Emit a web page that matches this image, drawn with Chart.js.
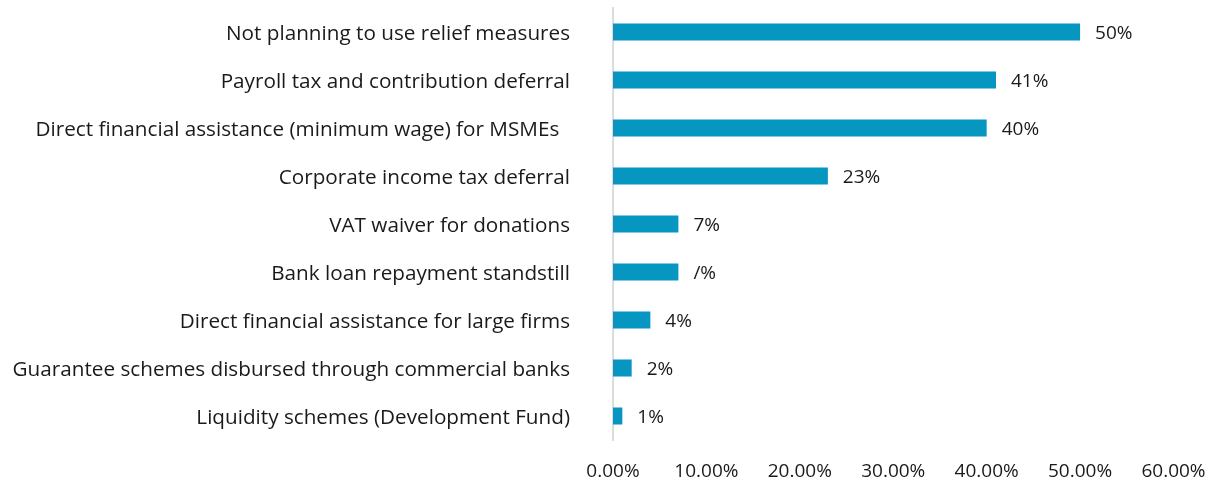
<!DOCTYPE html>
<html>
<head>
<meta charset="utf-8">
<script src="https://cdn.jsdelivr.net/npm/chart.js@4"></script>
<style>
  html, body { margin: 0; padding: 0; background: #ffffff; }
  #wrap { width: 1210px; height: 481px; position: relative; }
</style>
</head>
<body>
<div id="wrap"><canvas id="reliefChart"></canvas></div>
<script>
// Relief measures firms plan to use (share of respondents)
const categories = [
  'Not planning to use relief measures',
  'Payroll tax and contribution deferral',
  'Direct financial assistance (minimum wage) for MSMEs  ',
  'Corporate income tax deferral',
  'VAT waiver for donations',
  'Bank loan repayment standstill',
  'Direct financial assistance for large firms',
  'Guarantee schemes disbursed through commercial banks',
  'Liquidity schemes (Development Fund)'
];
const shares = [50, 41, 40, 23, 7, 7, 4, 2, 1];
const valueLabels = ['50%', '41%', '40%', '23%', '7%', '/%', '4%', '2%', '1%'];
const xTicks = [0, 10, 20, 30, 40, 50, 60];

const FONT = '"Open Sans", "Noto Sans", sans-serif';
const TEXT = '#1a1a1a';

// --- Draw the percentage next to each bar ---
const barLabels = {
  id: 'barLabels',
  afterDatasetsDraw(chart) {
    const ctx = chart.ctx;
    const meta = chart.getDatasetMeta(0);
    ctx.save();
    ctx.font = '19px ' + FONT;
    ctx.fillStyle = TEXT;
    ctx.textAlign = 'left';
    ctx.textBaseline = 'middle';
    meta.data.forEach((bar, i) => {
      ctx.fillText(valueLabels[i], bar.x + 15, bar.y + 2);
    });
    ctx.restore();
  }
};

const ctx = document.getElementById('reliefChart').getContext('2d');
const chart = new Chart(ctx, {
  type: 'bar',
  data: {
    labels: categories,
    datasets: [{
      data: shares,
      backgroundColor: '#0696c1',
      borderWidth: 0,
      barPercentage: 0.354,
      categoryPercentage: 1.0
    }]
  },
  options: {
    indexAxis: 'y',
    responsive: true,
    maintainAspectRatio: false,
    animation: false,
    layout: { padding: { top: 8, right: 36.5, bottom: 0, left: 0 } },
    plugins: {
      legend: { display: false },
      tooltip: { enabled: false }
    },
    scales: {
      y: {
        // tick marks are hidden, their length only pushes the labels away from the axis
        grid: { display: false, drawTicks: true, tickLength: 43 },
        border: { display: true, color: '#dcdcdc', width: 2 },
        ticks: {
          color: TEXT,
          padding: 0,
          labelOffset: 2,
          font: { family: FONT, size: 20.7, lineHeight: 0.7 }
        },
        afterFit: (axis) => { axis.width = 613; }
      },
      x: {
        min: 0,
        max: 60,
        grid: { display: false, drawTicks: true, tickLength: 20 },
        border: { display: false },
        afterBuildTicks: (axis) => { axis.ticks = xTicks.map(v => ({ value: v })); },
        ticks: {
          color: TEXT,
          padding: 0,
          maxRotation: 0,
          font: { family: FONT, size: 19 },
          callback: (v) => Number(v).toFixed(2) + '%'
        },
        afterFit: (axis) => { axis.height = 41; }
      }
    }
  },
  plugins: [barLabels]
});
</script>
</body>
</html>
